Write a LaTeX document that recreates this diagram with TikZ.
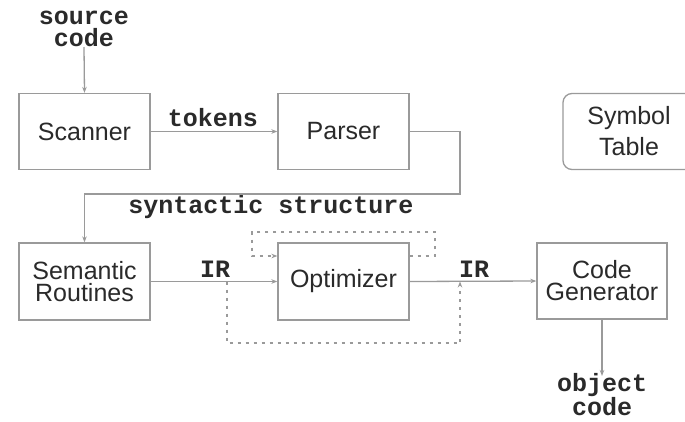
\documentclass[tikz,border=0pt]{standalone}
\usepackage{fontspec}
\setmainfont{Liberation Sans}
\newfontfamily\monof{Liberation Mono}
\usetikzlibrary{arrows.meta}
\definecolor{lncol}{HTML}{9A9A9A}
\definecolor{txcol}{HTML}{2A2A2A}
\begin{document}
\begin{tikzpicture}[x=1pt,y=-1pt,
  box/.style={draw=lncol, line width=1.3pt, minimum width=131pt, minimum height=76pt,
    inner sep=0pt, align=center, text=txcol, font=\fontsize{25}{22}\selectfont},
  lab/.style={text=txcol, font=\monof\bfseries\fontsize{25}{22}\selectfont, inner sep=0pt, align=center},
  arr/.style={draw=lncol, line width=1.3pt, -{Stealth[length=6pt,width=4.5pt]}},
  dotline/.style={draw=lncol, line width=1.5pt, dash pattern=on 3pt off 5pt}
]
\useasboundingbox (0,0) rectangle (685,421);

\node[box] (scan) at (84.5,131.5) {Scanner};
\node[box] (pars) at (343.5,131.5) {Parser};
\node[box, rounded corners=9pt, minimum width=132pt, font=\fontsize{25}{31}\selectfont] (sym) at (629,131.5) {Symbol\\Table};
\node[box, minimum height=77pt] (sem) at (84.5,281.5) {Semantic\\Routines};
\node[box, minimum height=77pt] (opt) at (343.5,281.5) {Optimizer};
\node[box, minimum width=130pt] (cg) at (602,281) {Code\\Generator};

\node[lab, anchor=south] (src) at (84,47) {source\\code};
\node[lab, anchor=north] (obj) at (602,373) {object\\code};
\node[lab] (tok) at (213,118) {tokens};
\node[lab] (syn) at (271,207) {syntactic structure};
\node[lab] (ir1) at (215,269) {IR};
\node[lab] (ir2) at (474,269) {IR};

\coordinate (c1) at (460,194);
\coordinate (t1) at (435,232);
\coordinate (t2) at (252,256);
\coordinate (b1) at (227,281.5);
\coordinate (b2) at (460,343);
\coordinate (b3) at (460,281.5);

\draw[arr] (src.south) -- (scan.north);
\draw[arr] (scan.east) -- (pars.west);
\draw[arr] (pars.east) -| (c1) -| (sem.north);
\draw[arr] (sem.east) -- (opt.west);
\draw[arr] (opt.east) -- (cg.west);
\draw[arr] (cg.south) -- ([yshift=-3pt]obj.north);

\draw[dotline, -{Stealth[length=6pt,width=4.5pt]}] ([yshift=25.5pt]opt.east) -| (t1) -| (t2) -- ([yshift=25.5pt]opt.west);
\draw[dotline, -{Stealth[length=6pt,width=4.5pt]}] (b1) |- (b2) -- (b3);
\end{tikzpicture}
\end{document}
